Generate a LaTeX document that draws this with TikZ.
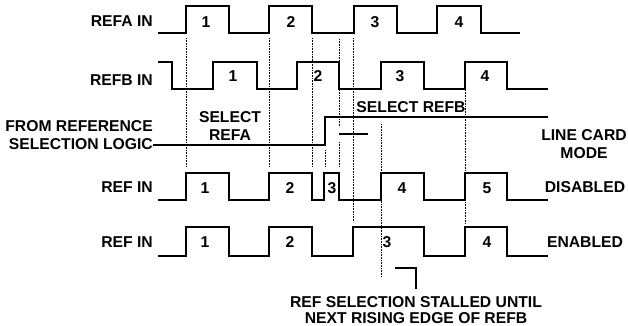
\documentclass[tikz,border=0pt]{standalone}
\usepackage{fontspec}
\setmainfont{Liberation Sans}

\begin{document}
\begin{tikzpicture}[
  x=1pt, y=-1pt,
  font=\fontsize{15.7}{18}\selectfont\bfseries,
  wave/.style={line width=2.4pt, line join=miter},
  guide/.style={densely dotted, line width=0.6pt},
  tickline/.style={line width=1.2pt},
  sidelabel/.style={align=right, anchor=east, inner sep=0pt},
  numlabel/.style={inner sep=0pt},
  note/.style={align=center, inner sep=0pt}
]
\useasboundingbox (0,0) rectangle (628,326);
% signal names
\node[sidelabel] (refa) at (153,21) {REFA IN};
\node[sidelabel] (refb) at (153,80) {REFB IN};
\node[sidelabel] (sel) at (153,135) {FROM REFERENCE\\SELECTION LOGIC};
\node[sidelabel] (refdis) at (153,187) {REF IN};
\node[sidelabel] (refen) at (153,242) {REF IN};
\node[note] (mode) at (584,144) {LINE CARD\\MODE};
\node[note] (dis) at (585,187) {DISABLED};
\node[note] (en) at (585,242) {ENABLED};
\node[note] (sela) at (230,126) {SELECT\\REFA};
\node[note] (selb) at (411,107) {SELECT REFB};
\node[note, font=\fontsize{15.7}{16.5}\selectfont\bfseries] (stall) at (416,310) {REF SELECTION STALLED UNTIL\\NEXT RISING EDGE OF REFB};
% guides
\draw[guide] (186,38) -- (186,167);
\draw[guide] (269,38) -- (269,167);
\draw[guide] (312,38) -- (312,167);
\draw[guide] (325,150) -- (325,167);
\draw[guide] (339,39) -- (339,127);
\draw[guide] (339,142) -- (339,167);
\draw[guide] (353,38) -- (353,222);
\draw[guide] (381,124) -- (381,277);
\draw[guide] (465,90) -- (465,223);
% REFA IN
\draw[wave] (158,33) -- (186,33) -- (186,6) -- (229,6) -- (229,33) -- (269,33) -- (269,6) -- (312,6) -- (312,33) -- (354,33) -- (354,6) -- (397,6) -- (397,33) -- (437,33) -- (437,6) -- (481,6) -- (481,33) -- (520,33);
\node[numlabel] (a1) at (206,22) {1};
\node[numlabel] (a2) at (291,22) {2};
\node[numlabel] (a3) at (375,22) {3};
\node[numlabel] (a4) at (459,22) {4};
% REFB IN
\draw[wave] (158,62) -- (172,62) -- (172,89) -- (213,89) -- (213,62) -- (257,62) -- (257,89) -- (297,89) -- (297,62) -- (339,62) -- (339,89) -- (381,89) -- (381,62) -- (424,62) -- (424,89) -- (465,89) -- (465,62) -- (507,62) -- (507,89) -- (548,89);
\node[numlabel] (b1) at (233,76) {1};
\node[numlabel] (b2) at (318,76) {2};
\node[numlabel] (b3) at (400,76) {3};
\node[numlabel] (b4) at (485,76) {4};
% selection
\draw[wave] (sel.east |- 0,145) -- (325,145) -- (325,117) -- (548,117);
\draw[tickline] (339,134) -- (368,134);
% REF IN, line card mode disabled
\draw[wave] (158,200) -- (186,200) -- (186,173) -- (229,173) -- (229,200) -- (269,200) -- (269,173) -- (312,173) -- (312,200) -- (324,200) -- (324,173) -- (339,173) -- (339,200) -- (381,200) -- (381,173) -- (424,173) -- (424,200) -- (465,200) -- (465,173) -- (507,173) -- (507,200) -- (548,200);
\node[numlabel] (d1) at (205,188) {1};
\node[numlabel] (d2) at (290,188) {2};
\node[numlabel] (d3) at (332,188) {3};
\node[numlabel] (d4) at (402,188) {4};
\node[numlabel] (d5) at (487,188) {5};
% REF IN, line card mode enabled
\draw[wave] (158,256) -- (186,256) -- (186,227) -- (229,227) -- (229,256) -- (269,256) -- (269,227) -- (312,227) -- (312,256) -- (353,256) -- (353,227) -- (424,227) -- (424,256) -- (465,256) -- (465,227) -- (507,227) -- (507,256) -- (548,256);
\node[numlabel] (e1) at (205,242) {1};
\node[numlabel] (e2) at (290,242) {2};
\node[numlabel] (e3) at (387,242) {3};
\node[numlabel] (e4) at (487,242) {4};
% stall marker
\coordinate (brk) at (395,268);
\draw[tickline] (brk) -| ([yshift=7pt]stall.north);
\end{tikzpicture}
\end{document}
